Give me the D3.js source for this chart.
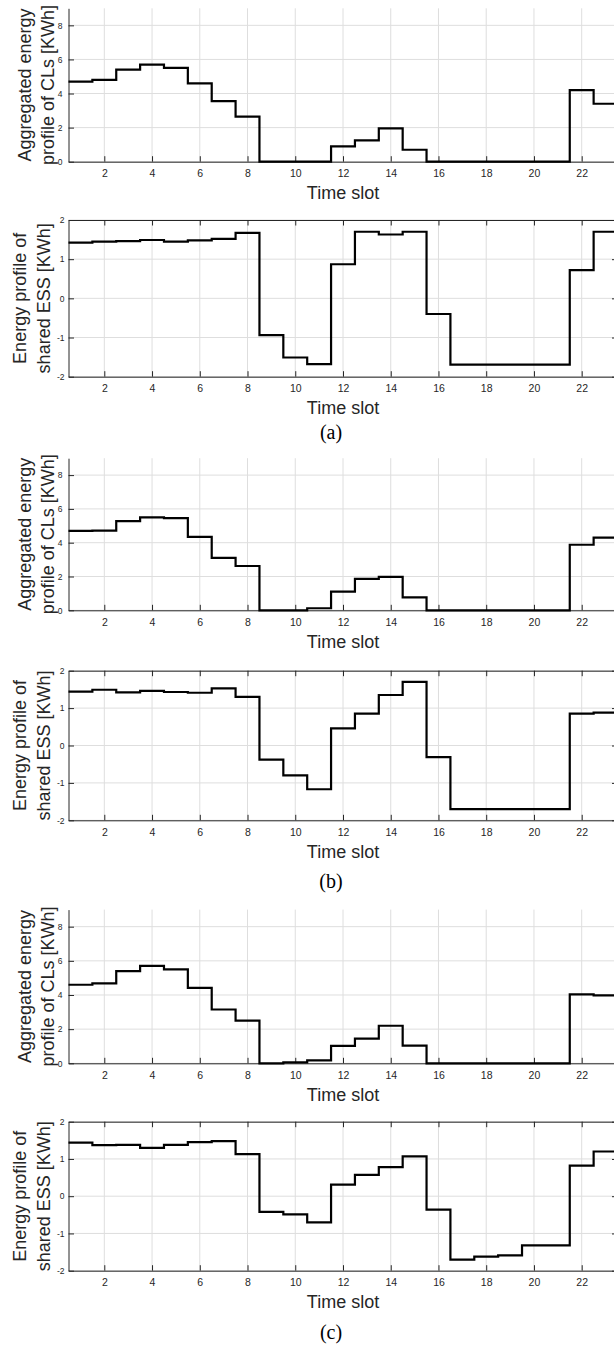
<!DOCTYPE html>
<html>
<head>
<meta charset="utf-8">
<script src="https://cdn.jsdelivr.net/npm/d3@7"></script>
<style>
body { margin: 0; background: #fff; }
svg { display: block; }
.axis path, .axis line { stroke: #262626; }
.axis text { fill: #262626; font-family: "Liberation Sans", Arial, sans-serif; }
.grid line { stroke: #dedede; }
.lbl { font-family: "Liberation Sans", Arial, sans-serif; font-size: 18px; fill: #262626; }
.cap { font-family: "Liberation Serif", "Times New Roman", serif; font-size: 20px; fill: #000; }
</style>
</head>
<body>
<svg width="614" height="1347"></svg>
<script>
// time slots and tick values
var slots = d3.range(1, 24);
var xTicks = [2, 4, 6, 8, 10, 12, 14, 16, 18, 20, 22];
var clTicks = [0, 2, 4, 6, 8];
var essTicks = [-2, -1, 0, 1, 2];

// aggregated energy of CLs [KWh]
var cl_a = [4.7, 4.8, 5.4, 5.7, 5.5, 4.6, 3.55, 2.65, 0, 0, 0, 0.9, 1.25, 1.95, 0.7, 0, 0, 0, 0, 0, 0, 4.2, 3.4];
var cl_b = [4.7, 4.72, 5.28, 5.5, 5.46, 4.35, 3.1, 2.62, 0, 0, 0.12, 1.1, 1.86, 1.98, 0.77, 0, 0, 0, 0, 0, 0, 3.88, 4.3];
var cl_c = [4.6, 4.68, 5.4, 5.7, 5.5, 4.42, 3.15, 2.5, 0, 0.06, 0.17, 1.02, 1.45, 2.2, 1.03, 0, 0, 0, 0, 0, 0, 4.04, 3.98];

// energy of shared ESS [KWh]
var ess_a = [1.42, 1.45, 1.46, 1.49, 1.45, 1.48, 1.52, 1.67, -0.94, -1.51, -1.68, 0.87, 1.7, 1.63, 1.7, -0.4, -1.69, -1.69, -1.69, -1.69, -1.69, 0.72, 1.7];
var ess_b = [1.44, 1.49, 1.42, 1.46, 1.43, 1.41, 1.53, 1.3, -0.38, -0.8, -1.17, 0.46, 0.85, 1.35, 1.7, -0.31, -1.7, -1.7, -1.7, -1.7, -1.7, 0.85, 0.88];
var ess_c = [1.44, 1.37, 1.38, 1.3, 1.38, 1.45, 1.48, 1.13, -0.42, -0.49, -0.7, 0.31, 0.57, 0.78, 1.07, -0.36, -1.7, -1.62, -1.59, -1.32, -1.32, 0.82, 1.2];

var svg = d3.select("svg");
var left = 68.5, right = 617.5, tick = 5.5;

var x = d3.scaleLinear().domain([0.5, 23.5]).range([left, right]);

// panel placement (pixels)
var panels = [
    {values: cl_a,  kind: "cl",  top: 8.3,   bottom: 161.7},
    {values: ess_a, kind: "ess", top: 220,   bottom: 376.7},
    {values: cl_b,  kind: "cl",  top: 458.2, bottom: 610.3},
    {values: ess_b, kind: "ess", top: 670.7, bottom: 820.3},
    {values: cl_c,  kind: "cl",  top: 909.6, bottom: 1063.3},
    {values: ess_c, kind: "ess", top: 1121.7, bottom: 1270.7}
];
var captions = [{text: "(a)", y: 432}, {text: "(b)", y: 881}, {text: "(c)", y: 1332}];

function stepPoints(values)
{
    var pts = [];
    slots.forEach(function(s, i) {
        pts.push([s - 0.5, values[i]]);
        pts.push([s + 0.5, values[i]]);
    });
    return pts;
}

function plain(d) { return String(d); }

panels.forEach(function(p) {
    var isCl = p.kind == "cl";
    var y = d3.scaleLinear()
        .domain(isCl ? [0, 9] : [-2, 2])
        .range([p.bottom, p.top]);
    var yTicks = isCl ? clTicks : essTicks;
    var g = svg.append("g");

    // grid
    var grid = g.append("g").attr("class", "grid");
    grid.selectAll(".gx").data(xTicks).enter().append("line")
        .attr("x1", function(d) { return x(d); })
        .attr("x2", function(d) { return x(d); })
        .attr("y1", p.top).attr("y2", p.bottom);
    grid.selectAll(".gy").data(yTicks).enter().append("line")
        .attr("x1", left).attr("x2", right)
        .attr("y1", function(d) { return y(d); })
        .attr("y2", function(d) { return y(d); });

    // axes, ticks point inward
    g.append("g")
        .attr("class", "axis")
        .attr("transform", "translate(0," + p.bottom + ")")
        .call(d3.axisBottom(x).tickValues(xTicks).tickFormat(plain).tickSizeInner(-tick).tickSizeOuter(0).tickPadding(8))
        .style("font-size", "10.5px");

    g.append("g")
        .attr("class", "axis")
        .attr("transform", "translate(" + left + ",0)")
        .call(d3.axisLeft(y).tickValues(yTicks).tickFormat(plain).tickSizeInner(-tick).tickSizeOuter(0).tickPadding(isCl ? 6 : 4))
        .style("font-size", "8.5px");

    if (!isCl)
    {
        g.append("g")
            .attr("class", "axis")
            .attr("transform", "translate(0," + p.top + ")")
            .call(d3.axisTop(x).tickValues(xTicks).tickSizeInner(-tick).tickSizeOuter(0).tickFormat(""));
        g.append("g")
            .attr("class", "axis")
            .attr("transform", "translate(" + right + ",0)")
            .call(d3.axisRight(y).tickValues(yTicks).tickSizeInner(-tick).tickSizeOuter(0).tickFormat(""));
    }
    g.selectAll(".axis .domain").attr("stroke-width", 1);

    // stairs
    var line = d3.line()
        .x(function(d) { return x(d[0]); })
        .y(function(d) { return y(d[1]); });
    g.append("path")
        .attr("d", line(stepPoints(p.values)))
        .attr("fill", "none")
        .attr("stroke", "#000")
        .attr("stroke-width", 2.2)
        .attr("stroke-linejoin", "miter");

    // labels
    var cy = (p.top + p.bottom) / 2;
    var lines = isCl ? ["Aggregated energy", "profile of CLs [KWh]"] : ["Energy profile of", "shared ESS [KWh]"];
    var bx = isCl ? [31, 54] : [26, 50];
    lines.forEach(function(t, i) {
        g.append("text")
            .attr("class", "lbl")
            .attr("text-anchor", "middle")
            .attr("transform", "translate(" + bx[i] + "," + cy + ") rotate(-90)")
            .text(t);
    });

    g.append("text")
        .attr("class", "lbl")
        .attr("text-anchor", "middle")
        .attr("x", 343)
        .attr("y", p.bottom + 31)
        .attr("dy", "0.35em")
        .text("Time slot");
});

svg.selectAll(".cap").data(captions).enter().append("text")
    .attr("class", "cap")
    .attr("text-anchor", "middle")
    .attr("x", 331)
    .attr("y", function(d) { return d.y; })
    .attr("dy", "0.35em")
    .text(function(d) { return d.text; });
</script>
</body>
</html>
